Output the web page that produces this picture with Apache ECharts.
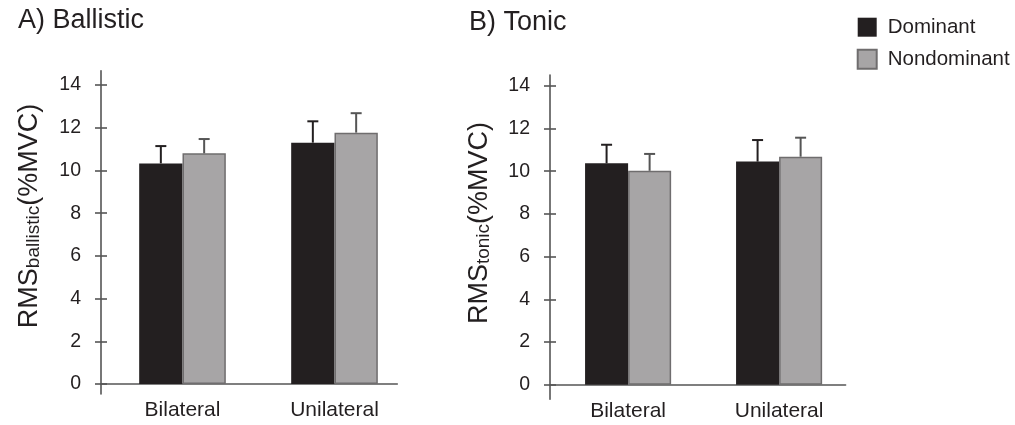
<!DOCTYPE html>
<html>
<head>
<meta charset="utf-8">
<script src="https://cdn.jsdelivr.net/npm/echarts@6/dist/echarts.min.js"></script>
<style>html,body{margin:0;padding:0;background:#fff;}#c{width:1015px;height:425px;}</style>
</head>
<body>
<div id="c"></div>
<script>
const categories = ['Bilateral', 'Unilateral'];
const seriesNames = ['Dominant', 'Nondominant'];
const ballisticDominant = [10.33, 11.30];
const ballisticDominantSD = [0.81, 1.00];
const ballisticNondominant = [10.80, 11.77];
const ballisticNondominantSD = [0.67, 0.91];
const tonicDominant = [10.37, 10.45];
const tonicDominantSD = [0.87, 1.01];
const tonicNondominant = [10.02, 10.68];
const tonicNondominantSD = [0.79, 0.89];
const yTicks = [0, 2, 4, 6, 8, 10, 12, 14];
const panelTitles = ['A) Ballistic', 'B) Tonic'];
const yNameMain = ['RMS', '(%MVC)'];
const yNameSubs = ['ballistic', 'tonic'];

const FONT = '"Liberation Sans", Arial, sans-serif';
const TXT = '#231f20';
const AX = '#555';
const DARK = '#231f20';
const GRAY = '#a7a5a6';
const GRAY_B = '#6f6d6e';
const CAT_GAP = 0.43;

const chart = echarts.init(document.getElementById('c'), null, {renderer: 'canvas'});

function errSeries(name, xIdx, yIdx, vals, sds, side, color) {
  return {
    type: 'custom', name: name + ' SD', xAxisIndex: xIdx, yAxisIndex: yIdx, z: 5,
    data: vals.map((v, i) => [i, v, sds[i]]),
    renderItem: function (params, api) {
      const base = api.coord([api.value(0), api.value(1)]);
      const top = api.coord([api.value(0), api.value(1) + api.value(2)]);
      const band = api.size([1, 0])[0];
      const bw = band * (1 - CAT_GAP) / 2;
      const x = base[0] + side * bw / 2;
      const st = {stroke: color, lineWidth: 2};
      return {type: 'group', children: [
        {type: 'line', shape: {x1: x, y1: base[1], x2: x, y2: top[1]}, style: st},
        {type: 'line', shape: {x1: x - 5.5, y1: top[1], x2: x + 5.5, y2: top[1]}, style: st}
      ]};
    }
  };
}

function barSeries(name, xIdx, yIdx, vals, dark) {
  return {
    type: 'bar', name: name, xAxisIndex: xIdx, yAxisIndex: yIdx,
    data: vals, barGap: '0%', barCategoryGap: (CAT_GAP * 100) + '%',
    itemStyle: dark ? {color: DARK, borderColor: DARK, borderWidth: 0}
                    : {color: GRAY, borderColor: GRAY_B, borderWidth: 1.5},
    emphasis: {disabled: true}
  };
}

function lineAxes(gridIdx, min, max) {
  return [
    {type: 'value', gridIndex: gridIdx, min: min, max: max, position: 'left',
     axisLine: {show: true, onZero: false, lineStyle: {color: AX, width: 1.6}},
     axisTick: {show: true, inside: false, length: 6, customValues: yTicks, lineStyle: {color: AX, width: 1.6}},
     axisLabel: {show: true, customValues: yTicks, margin: 20, fontFamily: FONT, fontSize: 19.5, color: TXT},
     splitLine: {show: false}},
    {type: 'value', gridIndex: gridIdx, min: min, max: max, position: 'left',
     axisLine: {show: false},
     axisTick: {show: true, inside: true, length: 6, customValues: yTicks, lineStyle: {color: AX, width: 1.6}},
     axisLabel: {show: false}, splitLine: {show: false}}
  ];
}

const yNameRich = {
  m: {fontFamily: FONT, fontSize: 27, fill: TXT, verticalAlign: 'bottom'},
  s: {fontFamily: FONT, fontSize: 19, fill: TXT, verticalAlign: 'bottom'}
};

const option = {
  animation: false,
  backgroundColor: '#fff',
  legend: {
    data: seriesNames, orient: 'vertical', left: 856.7, top: 16.7, padding: 0,
    itemWidth: 19, itemHeight: 19, itemGap: 11, icon: 'rect',
    textStyle: {fontFamily: FONT, fontSize: 20.5, color: TXT, padding: [0, 0, 0, 6]},
    selectedMode: false
  },
  grid: [
    {left: 101, top: 70.7, width: 296.3, height: 323.3},
    {left: 106.5, top: 85, width: 304, height: 299},
    {left: 550, top: 75, width: 295.6, height: 324.3},
    {left: 552.6, top: 85.8, width: 302, height: 299}
  ],
  xAxis: [
    {type: 'value', gridIndex: 0, min: 0, max: 1, axisLine: {show: true, onZero: true, lineStyle: {color: AX, width: 1.6}},
     axisTick: {show: false}, axisLabel: {show: false}, splitLine: {show: false}},
    {type: 'category', gridIndex: 1, data: categories, axisLine: {show: false}, axisTick: {show: false},
     axisLabel: {margin: 16, fontFamily: FONT, fontSize: 21, color: TXT}},
    {type: 'value', gridIndex: 2, min: 0, max: 1, axisLine: {show: true, onZero: true, lineStyle: {color: AX, width: 1.6}},
     axisTick: {show: false}, axisLabel: {show: false}, splitLine: {show: false}},
    {type: 'category', gridIndex: 3, data: categories, axisLine: {show: false}, axisTick: {show: false},
     axisLabel: {margin: 16, fontFamily: FONT, fontSize: 21, color: TXT}}
  ],
  yAxis: [].concat(
    lineAxes(0, -0.468, 14.67),
    [{type: 'value', gridIndex: 1, min: 0, max: 14, show: false}],
    lineAxes(2, -0.679, 14.506),
    [{type: 'value', gridIndex: 3, min: 0, max: 14, show: false}]
  ),
  series: [
    barSeries(seriesNames[0], 1, 2, ballisticDominant, true),
    barSeries(seriesNames[1], 1, 2, ballisticNondominant, false),
    errSeries(seriesNames[0], 1, 2, ballisticDominant, ballisticDominantSD, -1, '#231f20'),
    errSeries(seriesNames[1], 1, 2, ballisticNondominant, ballisticNondominantSD, 1, '#555555'),
    barSeries(seriesNames[0], 3, 5, tonicDominant, true),
    barSeries(seriesNames[1], 3, 5, tonicNondominant, false),
    errSeries(seriesNames[0], 3, 5, tonicDominant, tonicDominantSD, -1, '#231f20'),
    errSeries(seriesNames[1], 3, 5, tonicNondominant, tonicNondominantSD, 1, '#555555')
  ],
  graphic: [
    {type: 'text', left: 18, top: 7, style: {text: panelTitles[0], font: '27px ' + FONT, fill: TXT}},
    {type: 'text', left: 469, top: 9, style: {text: panelTitles[1], font: '27px ' + FONT, fill: TXT}},
    {type: 'text', x: 30, y: 216, rotation: Math.PI / 2,
     style: {text: '{m|' + yNameMain[0] + '}{s|' + yNameSubs[0] + '}{m|' + yNameMain[1] + '}',
             align: 'center', verticalAlign: 'middle', rich: yNameRich}},
    {type: 'text', x: 479.5, y: 223, rotation: Math.PI / 2,
     style: {text: '{m|' + yNameMain[0] + '}{s|' + yNameSubs[1] + '}{m|' + yNameMain[1] + '}',
             align: 'center', verticalAlign: 'middle', rich: yNameRich}}
  ]
};
chart.setOption(option);
</script>
</body>
</html>
